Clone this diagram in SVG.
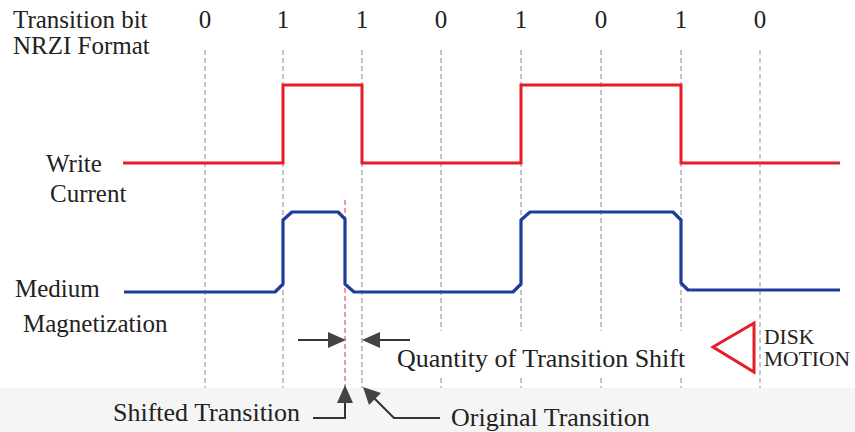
<svg xmlns="http://www.w3.org/2000/svg" width="855" height="432" viewBox="0 0 855 432">
  <style>
    .t { font-family: "Liberation Serif", "Times New Roman", serif; fill: #222; }
    .lbl { font-size: 25px; }
    .big { font-size: 26px; }
    .bit { font-size: 25px; text-anchor: middle; }
    .small { font-size: 21.5px; }
    .grid { stroke: #8a8a8a; stroke-width: 1; stroke-dasharray: 5 3; fill: none; }
    .wc { stroke: #e41d26; stroke-width: 3; fill: none; stroke-linejoin: miter; }
    .mm { stroke: #1e3d9b; stroke-width: 3.2; fill: none; stroke-linejoin: round; }
    .ar { stroke: #333; stroke-width: 2; fill: none; }
    .head { fill: #444; stroke: none; }
  </style>

  <rect x="0" y="0" width="855" height="432" fill="#ffffff"/>
  <rect x="0" y="388" width="855" height="44" fill="#f5f5f5"/>

  <!-- bit-cell boundaries -->
  <g id="grid">
    <line class="grid" x1="205" y1="50" x2="205" y2="388"/>
    <line class="grid" x1="283" y1="50" x2="283" y2="388"/>
    <line class="grid" x1="362" y1="50" x2="362" y2="388"/>
    <line class="grid" x1="441" y1="50" x2="441" y2="331"/>
    <line class="grid" x1="441" y1="378" x2="441" y2="388"/>
    <line class="grid" x1="521" y1="50" x2="521" y2="331"/>
    <line class="grid" x1="521" y1="378" x2="521" y2="388"/>
    <line class="grid" x1="601" y1="50" x2="601" y2="331"/>
    <line class="grid" x1="601" y1="378" x2="601" y2="388"/>
    <line class="grid" x1="681" y1="50" x2="681" y2="331"/>
    <line class="grid" x1="681" y1="378" x2="681" y2="388"/>
    <line class="grid" x1="760" y1="50" x2="760" y2="388"/>
    <line x1="345" y1="200" x2="345" y2="388" stroke="#e8333b" stroke-width="1" stroke-dasharray="5 3"/>
  </g>

  <!-- header rows -->
  <g id="header">
    <text class="t lbl" x="13" y="28">Transition bit</text>
    <text class="t lbl" x="13" y="54">NRZI Format</text>
    <text class="t bit" x="205" y="28">0</text>
    <text class="t bit" x="283" y="28">1</text>
    <text class="t bit" x="362" y="28">1</text>
    <text class="t bit" x="441" y="28">0</text>
    <text class="t bit" x="521" y="28">1</text>
    <text class="t bit" x="601" y="28">0</text>
    <text class="t bit" x="681" y="28">1</text>
    <text class="t bit" x="760" y="28">0</text>
  </g>

  <!-- write current waveform -->
  <g id="write-current">
    <text class="t lbl" x="46" y="172">Write</text>
    <text class="t lbl" x="50" y="202">Current</text>
    <polyline class="wc" points="123,163 283,163 283,85 362,85 362,163 521,163 521,85 681,85 681,163 840,163"/>
  </g>

  <!-- medium magnetization waveform -->
  <g id="medium-magnetization">
    <text class="t lbl" x="15" y="297">Medium</text>
    <text class="t lbl" x="23" y="332">Magnetization</text>
    <polyline class="mm" points="124,292 275,292 283,284 283,220 292,212 338,212 345,219 345,284 354,292 513,292 521,284 521,220 530,212 673,212 681,220 681,283 688,290 840,290"/>
  </g>

  <!-- transition shift annotation -->
  <g id="connectors">
    <line class="ar" x1="298" y1="340" x2="330" y2="340"/>
    <polygon class="head" points="346,340 328,332 328,348"/>
    <line class="ar" x1="410" y1="340" x2="378" y2="340"/>
    <polygon class="head" points="362,340 380,332 380,348"/>
    <polyline class="ar" points="313,418 345,418 345,400"/>
    <polygon class="head" points="345,385 337,403 353,403"/>
    <polyline class="ar" points="440,418 394,418 373,397"/>
    <polygon class="head" points="363,387 369,405 381,393"/>
  </g>

  <g id="shift-labels">
    <text class="t big" x="397" y="367">Quantity of Transition Shift</text>
    <text class="t big" x="113" y="421">Shifted Transition</text>
    <text class="t big" x="451" y="426">Original Transition</text>
  </g>

  <!-- disk motion indicator -->
  <g id="disk-motion">
    <polygon points="713,347 754,323 754,372" fill="none" stroke="#e41d26" stroke-width="3" stroke-linejoin="miter"/>
    <text class="t small" x="764" y="344">DISK</text>
    <text class="t small" x="764" y="366">MOTION</text>
  </g>
</svg>
